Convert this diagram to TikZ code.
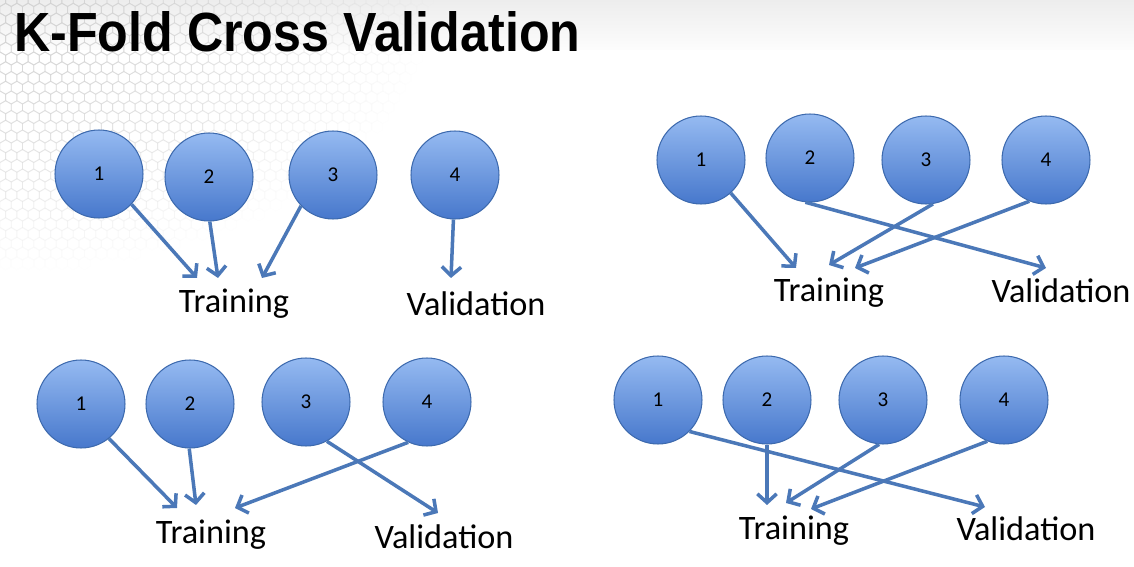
\documentclass[tikz,border=0pt]{standalone}
\usepackage{graphicx}
\usepackage{fontspec}
\setmainfont{Carlito}
\newfontfamily\titlefont{Liberation Sans}
\usetikzlibrary{arrows.meta}

\definecolor{foldtop}{HTML}{95BAF1}
\definecolor{foldbot}{HTML}{4778CC}
\definecolor{foldrim}{HTML}{3D6AAE}
\definecolor{foldline}{HTML}{4B78B8}

\tikzset{
  fold/.style={circle, minimum size=1.76cm, inner sep=0pt, draw=foldrim, line width=0.6pt,
    top color=foldtop, bottom color=foldbot, font=\fontsize{12}{14}\selectfont},
  part/.style={inner sep=0pt, font=\fontsize{19.5}{23}\selectfont},
  pick/.style={draw=foldline, line width=2pt,
    -{Straight Barb[length=5pt,width=11pt,line width=2pt]}}
}

\begin{document}
\begin{tikzpicture}[x=0.02cm, y=-0.02cm]

% Page and faint background
\useasboundingbox (0,0) rectangle (1134,567);
\fill[white] (0,0) rectangle (1134,567);
\shade[top color=gray!14, bottom color=gray!2] (0,0) rectangle (1134,50);

% Honeycomb in the top left corner, fading out
\foreach \i in {0,...,38} {
  \foreach \j in {0,...,27} {
    \pgfmathsetmacro\hx{\i*11.26 + mod(\j,2)*5.63}
    \pgfmathsetmacro\hy{\j*9.75}
    \pgfmathsetmacro\hop{0.8*max(0, 1 - sqrt((\hx/430)^2 + (\hy/270)^2))}
    \draw[gray!35, line width=0.5pt, opacity=\hop]
      (\hx,\hy) +(30:6.5) -- +(90:6.5) -- +(150:6.5) -- +(210:6.5) -- +(270:6.5) -- +(330:6.5) -- cycle;
  }
}

% Title
\node[anchor=south west, inner sep=0pt] (title) at (14,52)
  {\resizebox{11.32cm}{0.8cm}{\titlefont\bfseries K-Fold Cross Validation}};

% Top left: fold 4 is held out
\foreach \n/\x/\y in {1/99/174, 2/209/177, 3/333/175, 4/455/175}
  \node[fold] (a\n) at (\x,\y) {\n};
\node[part] (atrain) at (234,304) {Training};
\node[part] (aval) at (476,304) {Validation};
\coordinate (at1) at (197,278);
\coordinate (at2) at (218,278);
\coordinate (at3) at (262,278);
\coordinate (av4) at (451,278);

% Top right: fold 2 is held out
\foreach \n/\x/\y in {1/701/160, 2/810/158, 3/926/160, 4/1046/160}
  \node[fold] (b\n) at (\x,\y) {\n};
\node[part] (btrain) at (829,293) {Training};
\node[part] (bval) at (1061,291) {Validation};
\coordinate (bt1) at (796,268);
\coordinate (bv2) at (1046,268);
\coordinate (bt3) at (829,265);
\coordinate (bt4) at (855,268);

% Bottom left: fold 3 is held out
\foreach \n/\x/\y in {1/81/404, 2/190/404, 3/306/402, 4/427/402}
  \node[fold] (c\n) at (\x,\y) {\n};
\node[part] (ctrain) at (211,535) {Training};
\node[part] (cval) at (444,537) {Validation};
\coordinate (ct1) at (177,508);
\coordinate (ct2) at (196,505);
\coordinate (cv3) at (438,513);
\coordinate (ct4) at (235,508);

% Bottom right: fold 1 is held out
\foreach \n/\x/\y in {1/658/400, 2/767/400, 3/883/400, 4/1004/400}
  \node[fold] (d\n) at (\x,\y) {\n};
\node[part] (dtrain) at (794,531) {Training};
\node[part] (dval) at (1026,529) {Validation};
\coordinate (dv1) at (985,507);
\coordinate (dt2) at (767,505);
\coordinate (dt3) at (786,503);
\coordinate (dt4) at (811,509);

% Arrows from each fold
\foreach \s/\a/\t in {a1/-43/at1, a2/-89/at2, a3/-136/at3, a4/-92/av4,
                      b1/-48/bt1, b2/-96/bv2, b3/-81/bt3, b4/-112/bt4,
                      c1/-51/ct1, c2/-91/ct2, c3/-62/cv3, c4/-115/ct4,
                      d1/-45/dv1, d2/-90/dt2, d3/-95/dt3, d4/-112/dt4}
  \draw[pick] (\s.\a) -- (\t);

\end{tikzpicture}
\end{document}
